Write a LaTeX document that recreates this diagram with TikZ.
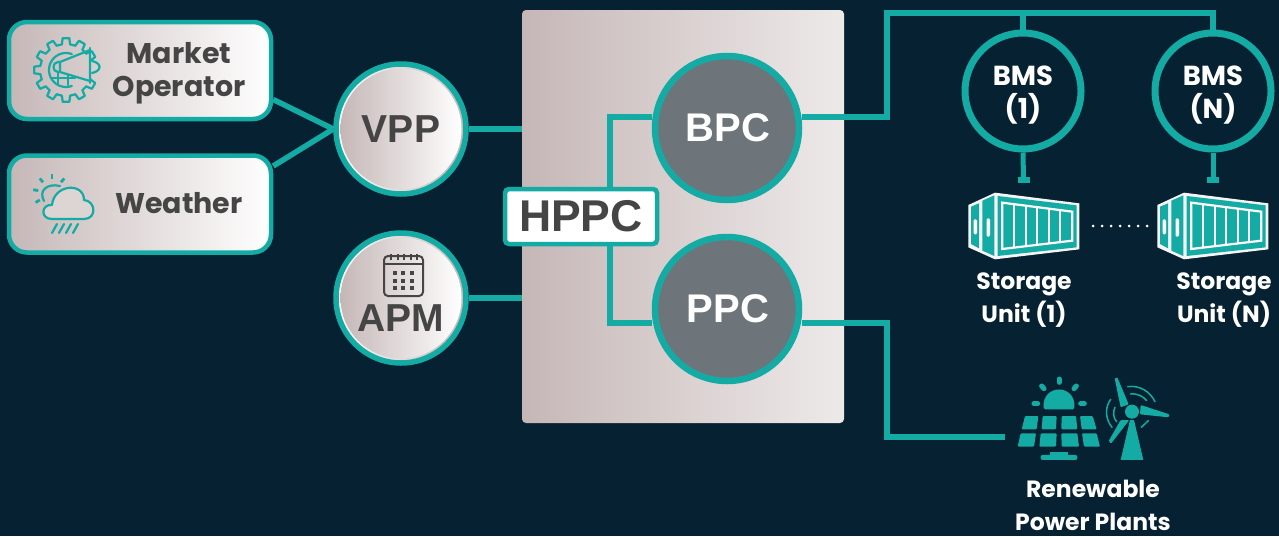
\documentclass[tikz,border=0pt]{standalone}
\usepackage{fontspec}
\setmainfont{Liberation Sans}
\newfontfamily\roundfont{Poppins}[BoldFont={Poppins Bold}]
\usetikzlibrary{calc}
\definecolor{bgc}{HTML}{062131}
\definecolor{teal1}{HTML}{14ABA5}
\definecolor{grayt}{HTML}{454545}
\definecolor{pinkg}{HTML}{C6B7B7}
\definecolor{darkc}{HTML}{6D757B}
\pgfdeclarelayer{bg}\pgfdeclarelayer{conn}
\pgfsetlayers{bg,conn,main}
\tikzset{
  conn/.style={draw=teal1,line width=5.5pt,line join=miter},
  source/.style={draw=teal1,line width=4.5pt,rounded corners=18pt,left color=pinkg,right color=white,minimum width=262pt,minimum height=97pt,inner sep=0pt},
  lightc/.style={circle,draw=teal1,line width=5.5pt,left color=white,right color=pinkg,minimum size=130pt,inner sep=0pt},
  darkcircle/.style={circle,draw=teal1,line width=6.5pt,fill=darkc,minimum size=144pt,inner sep=0pt,text=white,font=\fontsize{40}{40}\selectfont\bfseries},
  bmsc/.style={circle,draw=teal1,line width=7pt,fill=bgc,minimum size=116pt,inner sep=0pt},
  bmst/.style={inner sep=0pt,text=white,align=center,font=\roundfont\fontsize{27.5}{33}\selectfont\bfseries},
  lbl/.style={inner sep=0pt,align=center,text=white,font=\roundfont\fontsize{23.5}{33}\selectfont\bfseries},
  dlbl/.style={inner sep=0pt,align=center,text=grayt,font=\roundfont\fontsize{28.5}{33}\selectfont\bfseries},
  clbl/.style={inner sep=0pt,text=grayt,font=\fontsize{39}{39}\selectfont\bfseries},
  icn/.style={draw=teal1,line width=2.2pt,line join=round,line cap=round},
}
\newcommand{\innerdisc}[2]{\shade[left color=pinkg,right color=white] (#1,#2) circle (60.5pt);}
\newcommand{\containericon}[2]{%
\begin{scope}[shift={(#1,#2)},x=.3333pt,y=-.3333pt]
 \fill[white!92!gray] (55,105)--(135,68)--(388,100)--(388,238)--(135,268)--(55,232)--cycle;
 \fill[teal1] (143,78)--(380,106)--(380,232)--(143,258)--cycle;
 \fill[teal1] (97,92)--(133,76)--(133,258)--(97,242)--cycle;
 \fill[teal1] (63,110)--(87,100)--(87,235)--(63,222)--cycle;
 \draw[white,line width=2.2pt] (157,98)--(367,125)--(367,212)--(157,237)--cycle;
 \foreach \xx/\ya/\yb in {193/103/233,227/107/229,262/112/225,296/116/221,330/121/217}
   \draw[white,line width=2.2pt] (\xx,\ya)--(\xx,\yb);
 \fill[white,rounded corners=1.2pt] (71,148) rectangle (81,193);
 \fill[white,rounded corners=1.2pt] (110,145) rectangle (120,200);
\end{scope}}
\begin{document}
\begin{tikzpicture}[x=1pt,y=-1pt]
\useasboundingbox (0,0) rectangle (1279,536);
\begin{pgfonlayer}{bg}
\fill[bgc] (0,0) rectangle (1279,536);
\node[rounded corners=4pt,left color=pinkg,right color=white!70!pinkg,minimum width=322pt,minimum height=413pt,inner sep=0pt] (panel) at (683,216.5) {};
\end{pgfonlayer}
\node[source] (market) at (140,70.5) {};
\node[source] (weather) at (140,204) {};
\node[lightc] (vpp) at (401,129) {};
\node[lightc] (apm) at (401,298) {};
\innerdisc{401}{129}
\innerdisc{401}{298}
\node[clbl] (vpplbl) at (401,129) {VPP};
\node[clbl] (apmlbl) at (401,318) {APM};
\node[darkcircle] (bpc) at (727,128) {\hspace{2pt}BPC};
\node[darkcircle] (ppc) at (727,309) {\hspace{2pt}PPC};
\node[draw=teal1,line width=4.5pt,fill=white,rounded corners=4pt,minimum width=152pt,minimum height=55pt,inner sep=0pt,text=grayt,font=\fontsize{44.5}{44.5}\selectfont\bfseries] (hppc) at (581,216.5) {HPPC};
\node[bmsc] (bms1) at (1023,91) {};
\node[bmsc] (bmsn) at (1213,91) {};
\node[bmst] (bms1lbl) at (1023,95) {BMS\\(1)};
\node[bmst] (bmsnlbl) at (1213,95) {BMS\\(N)};
\node[dlbl] (marketlbl) at (179,73) {Market\\Operator};
\node[dlbl] (weatherlbl) at (179,203) {Weather};
\node[lbl] (s1lbl) at (1024,300) {Storage\\Unit (1)};
\node[lbl] (snlbl) at (1224,300) {Storage\\Unit (N)};
\node[lbl] (rnlbl) at (1093,505) {Renewable\\Power Plants};
\coordinate (s1top) at (1023.5,180);
\coordinate (sntop) at (1213,180);
\coordinate (solar) at (1005,437);
\coordinate (busl) at (887,13);
\coordinate (busr) at (1213,13);
% connectors
\begin{pgfonlayer}{conn}
\draw[conn] (market.east) ++(0,29) -- (vpp.west);
\draw[conn] (weather.east) ++(0,-38) -- (vpp.west);
\draw[conn] (vpp.east) -- (vpp.east -| panel.west);
\draw[conn] (apm.east) -- (apm.east -| panel.west);
\draw[conn] (hppc.north -| 610,0) -- (610,117) -- ([yshift=11pt]bpc.west);
\draw[conn] (hppc.south -| 610,0) -- (610,323) -- ([yshift=-14pt]ppc.west);
\draw[conn] ([yshift=11pt]bpc.east) -| (busl) -- (busr) -- (bmsn.north);
\draw[conn] (bms1.north |- busl) -- (bms1.north);
\draw[conn] ([yshift=-14pt]ppc.east) -| (887,437) -- (solar);
\draw[draw=teal1,line width=5pt] (bms1.south) -- (s1top);
\draw[draw=teal1,line width=5pt] (bmsn.south) -- (sntop);
\end{pgfonlayer}
\fill[teal1] (1017.5,177) rectangle (1029.5,183);
\fill[teal1] (1207,177) rectangle (1219,183);
% gear + megaphone
\foreach \a in {30,60,...,330}{
  \draw[icn] ({66+26*cos(\a-9)},{70-26*sin(\a-9)}) -- ({66+32*cos(\a-6)},{70-32*sin(\a-6)}) -- ({66+32*cos(\a+6)},{70-32*sin(\a+6)}) -- ({66+26*cos(\a+9)},{70-26*sin(\a+9)});
}
\foreach \a in {30,60,...,300}{
  \draw[icn] ({66+26*cos(\a+9)},{70-26*sin(\a+9)}) -- ({66+26*cos(\a+21)},{70-26*sin(\a+21)});
}
\draw[icn] plot[domain=70:290,samples=40] ({66+17*cos(\x)},{70-17*sin(\x)});
\draw[icn] (60,62) -- (90,50) -- (90,81) -- (60,72) -- cycle;
\draw[icn] (90,48) -- (90,83);
\draw[icn] (60,62) -- (58,62) .. controls (52,62) and (52,72) .. (58,72) -- (60,72);
\draw[icn] (92,61) .. controls (102,63) and (102,71) .. (92,73);
\draw[icn] (58,72) -- (58,85) (68,75)--(68,85) (52,78)--(75,78);
% weather
\draw[icn] (44,201) .. controls (38,190) and (48,183) .. (60,186);
\foreach \a in {90,130,170,210,50}{
 \draw[teal1,line width=2.8pt] ({52+14*cos(\a)},{193-14*sin(\a)}) -- ({52+19*cos(\a)},{193-19*sin(\a)});
}
\draw[icn,fill=pinkg!60!white] (52,219) .. controls (40,219) and (41,204) .. (52,205) .. controls (54,184) and (84,182) .. (84,200) .. controls (96,201) and (97,219) .. (84,219) -- cycle;
\foreach \xx in {52,59,66,73}{ \draw[icn] (\xx,233) -- (\xx+5,224); }
% calendar
\draw[grayt,line width=2pt,rounded corners=4pt] (384,256) rectangle (423,296);
\draw[grayt,line width=2pt] (384,264) -- (423,264);
\foreach \xx in {391,398,404,411,417}{ \draw[grayt,line width=1.5pt] (\xx,254) -- (\xx,260); }
\foreach \xx in {395,403,412}{ \foreach \yy in {273,281,288}{ \fill[grayt] (\xx-1.7,\yy-1.7) rectangle (\xx+1.7,\yy+1.7); } }
% containers
\containericon{950}{170}
\containericon{1139}{170}
\foreach \xx in {1093,1102,1111,1120,1129,1138,1147}{ \fill[white] (\xx,226) circle (1.5pt); }
% solar + wind
\begin{scope}[shift={(1000,370)},x=.3333pt,y=-.3333pt]
 \fill[teal1,rounded corners=1.5pt] (131,118) .. controls (125,40) and (229,40) .. (223,118) -- cycle;
 \foreach \xa/\ya/\xb/\yb in {177/27/177/37,125/48/132/56,229/48/222/56,102/101/113/101,242/101/253/101}
  \draw[teal1,line width=5pt,line cap=round] (\xa,\ya)--(\xb,\yb);
 \foreach \p in {{(75,138)--(115,138)--(110,178)--(65,178)},{(128,138)--(170,138)--(168,178)--(125,178)},{(185,138)--(228,138)--(232,178)--(184,178)},{(240,138)--(278,138)--(290,178)--(245,178)},{(62,190)--(108,190)--(102,230)--(53,230)},{(122,190)--(170,190)--(168,230)--(118,230)},{(184,190)--(232,190)--(237,230)--(185,230)},{(246,190)--(290,190)--(300,230)--(252,230)}}
  \fill[teal1,rounded corners=1pt] \p --cycle;
 \fill[teal1] (150,245) rectangle (205,258);
 \fill[teal1,rounded corners=2pt] (122,255) rectangle (232,270);
 \fill[teal1] (396,125) circle (7pt);
 \fill[teal1,rounded corners=1pt] (344,25)--(352,22)--(386,103)--(362,112)--cycle;
 \fill[teal1,rounded corners=1pt] (422,105)--(508,133)--(506,142)--(420,133)--cycle;
 \fill[teal1,rounded corners=1pt] (388,150)--(333,221)--(326,213)--(362,150)--cycle;
 \fill[teal1] (390,150)--(402,150)--(430,270)--(362,270)--cycle;
 \draw[teal1,line width=1.5pt,line cap=round] (383,50) .. controls (420,45) and (450,65) .. (465,95);
 \draw[teal1,line width=1.5pt,line cap=round] (392,72) .. controls (415,70) and (430,80) .. (440,92);
 \draw[teal1,line width=1.5pt,line cap=round] (332,88) .. controls (312,115) and (318,150) .. (336,172);
 \draw[teal1,line width=1.5pt,line cap=round] (345,112) .. controls (338,125) and (340,145) .. (350,155);
 \draw[teal1,line width=1.5pt,line cap=round] (424,172) -- (445,152);
\end{scope}
\end{tikzpicture}
\end{document}
